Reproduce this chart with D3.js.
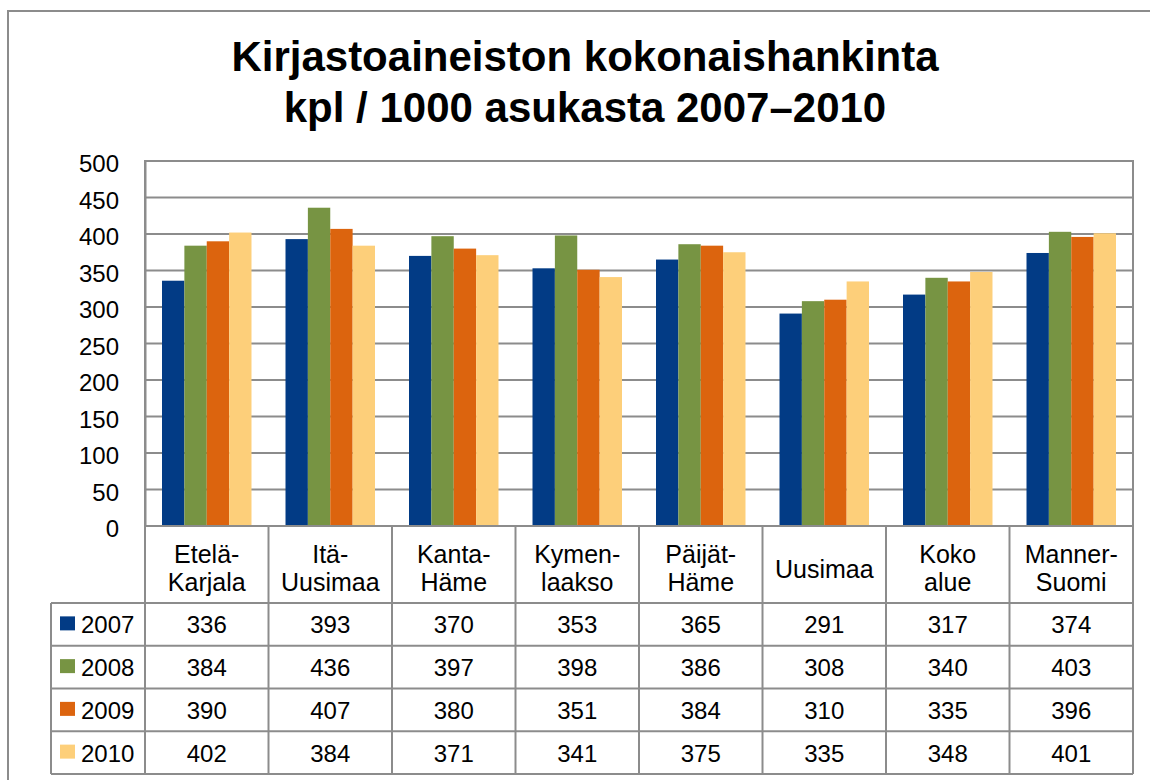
<!DOCTYPE html>
<html>
<head>
<meta charset="utf-8">
<script src="https://cdn.jsdelivr.net/npm/d3@7"></script>
<style>
  body { margin: 0; background: #fff; }
  svg { display: block; font-family: "Liberation Sans", Arial, sans-serif; }
</style>
</head>
<body>
<svg id="chart" width="1150" height="780"></svg>
<script>
var categories = [["Etelä-", "Karjala"], ["Itä-", "Uusimaa"], ["Kanta-", "Häme"], ["Kymen-", "laakso"],
                  ["Päijät-", "Häme"], ["Uusimaa"], ["Koko", "alue"], ["Manner-", "Suomi"]];
var years = ["2007", "2008", "2009", "2010"];
var v2007 = [336, 393, 370, 353, 365, 291, 317, 374];
var v2008 = [384, 436, 397, 398, 386, 308, 340, 403];
var v2009 = [390, 407, 380, 351, 384, 310, 335, 396];
var v2010 = [402, 384, 371, 341, 375, 335, 348, 401];
var yTicks = [0, 50, 100, 150, 200, 250, 300, 350, 400, 450, 500];
var colors = ["#023b85", "#779443", "#dc640e", "#fdcf7a"];

var series = [v2007, v2008, v2009, v2010];

var svg = d3.select("#chart");
var gridColor = "#8c8c8c";

// outer chart border (continues past the right and bottom edges)
svg.append("rect")
    .attr("x", 8).attr("y", 11)
    .attr("width", 1200).attr("height", 820)
    .attr("fill", "none")
    .attr("stroke", gridColor)
    .attr("stroke-width", 2);

// title
var title = svg.append("text")
    .attr("text-anchor", "middle")
    .attr("font-size", 42)
    .attr("font-weight", "bold")
    .attr("fill", "#000");
title.append("tspan").attr("x", 585).attr("y", 71).text("Kirjastoaineiston kokonaishankinta");
title.append("tspan").attr("x", 585).attr("y", 122).text("kpl / 1000 asukasta 2007–2010");

var plotLeft = 145, plotRight = 1133, plotTop = 161, plotBottom = 526;

var x0 = d3.scaleBand()
    .domain(d3.range(categories.length))
    .range([plotLeft, plotRight]);

var x1 = d3.scaleBand()
    .domain(years)
    .range([0, x0.bandwidth()])
    .paddingOuter(0.76);

var y = d3.scaleLinear()
    .domain([0, 500])
    .range([plotBottom, plotTop]);

// gridlines
svg.append("g")
    .selectAll("line")
    .data(yTicks)
    .enter().append("line")
    .attr("x1", plotLeft).attr("x2", plotRight)
    .attr("y1", function(d) { return y(d); })
    .attr("y2", function(d) { return y(d); })
    .attr("stroke", gridColor)
    .attr("stroke-width", 2);

// y axis
var yAxis = d3.axisLeft(y)
    .tickValues(yTicks)
    .tickSize(0)
    .tickPadding(26);
var gy = svg.append("g")
    .attr("transform", "translate(" + plotLeft + ",0)")
    .call(yAxis);
gy.select(".domain").attr("stroke", gridColor).attr("stroke-width", 2);
gy.selectAll("text")
    .attr("font-size", 24)
    .attr("fill", "#000")
    .attr("dy", "0.45em")
    .style("font-family", "'Liberation Sans', Arial, sans-serif");

// bars
var groups = svg.append("g")
    .selectAll("g")
    .data(categories)
    .enter().append("g")
    .attr("transform", function(d, i) { return "translate(" + x0(i) + ",0)"; });

groups.selectAll("rect")
    .data(function(d, i) {
        return years.map(function(yr, j) { return {year: yr, idx: j, value: series[j][i]}; });
    })
    .enter().append("rect")
    .attr("x", function(d) { return x1(d.year); })
    .attr("width", x1.bandwidth())
    .attr("y", function(d) { return y(d.value); })
    .attr("height", function(d) { return plotBottom - y(d.value); })
    .attr("fill", function(d) { return colors[d.idx]; });

// plot area border on top
svg.append("rect")
    .attr("x", plotLeft).attr("y", plotTop)
    .attr("width", plotRight - plotLeft).attr("height", plotBottom - plotTop)
    .attr("fill", "none")
    .attr("stroke", gridColor)
    .attr("stroke-width", 2);

// data table
var headerBottom = 603;
var rowH = 42.75;
var tableLeft = 51;
var tableBottom = headerBottom + rowH * years.length;
var table = svg.append("g");

// vertical lines of category columns
var colEdges = d3.range(categories.length + 1).map(function(i) {
    return i < categories.length ? x0(i) : plotRight;
});
table.selectAll("line.col")
    .data(colEdges)
    .enter().append("line")
    .attr("class", "col")
    .attr("x1", function(d) { return d; }).attr("x2", function(d) { return d; })
    .attr("y1", plotBottom).attr("y2", tableBottom)
    .attr("stroke", gridColor).attr("stroke-width", 2);

// legend column left line
table.append("line")
    .attr("x1", tableLeft).attr("x2", tableLeft)
    .attr("y1", headerBottom).attr("y2", tableBottom)
    .attr("stroke", gridColor).attr("stroke-width", 2);

// horizontal row lines
table.selectAll("line.row")
    .data(d3.range(years.length + 1))
    .enter().append("line")
    .attr("class", "row")
    .attr("x1", tableLeft).attr("x2", plotRight)
    .attr("y1", function(d) { return headerBottom + d * rowH; })
    .attr("y2", function(d) { return headerBottom + d * rowH; })
    .attr("stroke", gridColor).attr("stroke-width", 2);

// category header labels
var headers = table.selectAll("text.cat")
    .data(categories)
    .enter().append("text")
    .attr("class", "cat")
    .attr("text-anchor", "middle")
    .attr("font-size", 25)
    .attr("fill", "#000");
headers.each(function(d, i) {
    var t = d3.select(this);
    var cx = x0(i) + x0.bandwidth() / 2;
    var first = d.length === 1 ? 578 : 563;
    d.forEach(function(line, k) {
        t.append("tspan").attr("x", cx).attr("y", first + k * 28).text(line);
    });
});

// legend keys and values
years.forEach(function(yr, j) {
    var rowTop = headerBottom + j * rowH;
    var cy = rowTop + rowH / 2;
    table.append("rect")
        .attr("x", 60).attr("y", cy - 8)
        .attr("width", 15).attr("height", 14)
        .attr("fill", colors[j]);
    table.append("text")
        .attr("x", 81).attr("y", cy + 9)
        .attr("font-size", 24)
        .attr("fill", "#000")
        .text(yr);
    table.selectAll("text.v" + yr)
        .data(series[j])
        .enter().append("text")
        .attr("class", "v" + yr)
        .attr("x", function(d, i) { return x0(i) + x0.bandwidth() / 2; })
        .attr("y", cy + 9)
        .attr("text-anchor", "middle")
        .attr("font-size", 24)
        .attr("fill", "#000")
        .text(function(d) { return d; });
});
</script>
</body>
</html>
